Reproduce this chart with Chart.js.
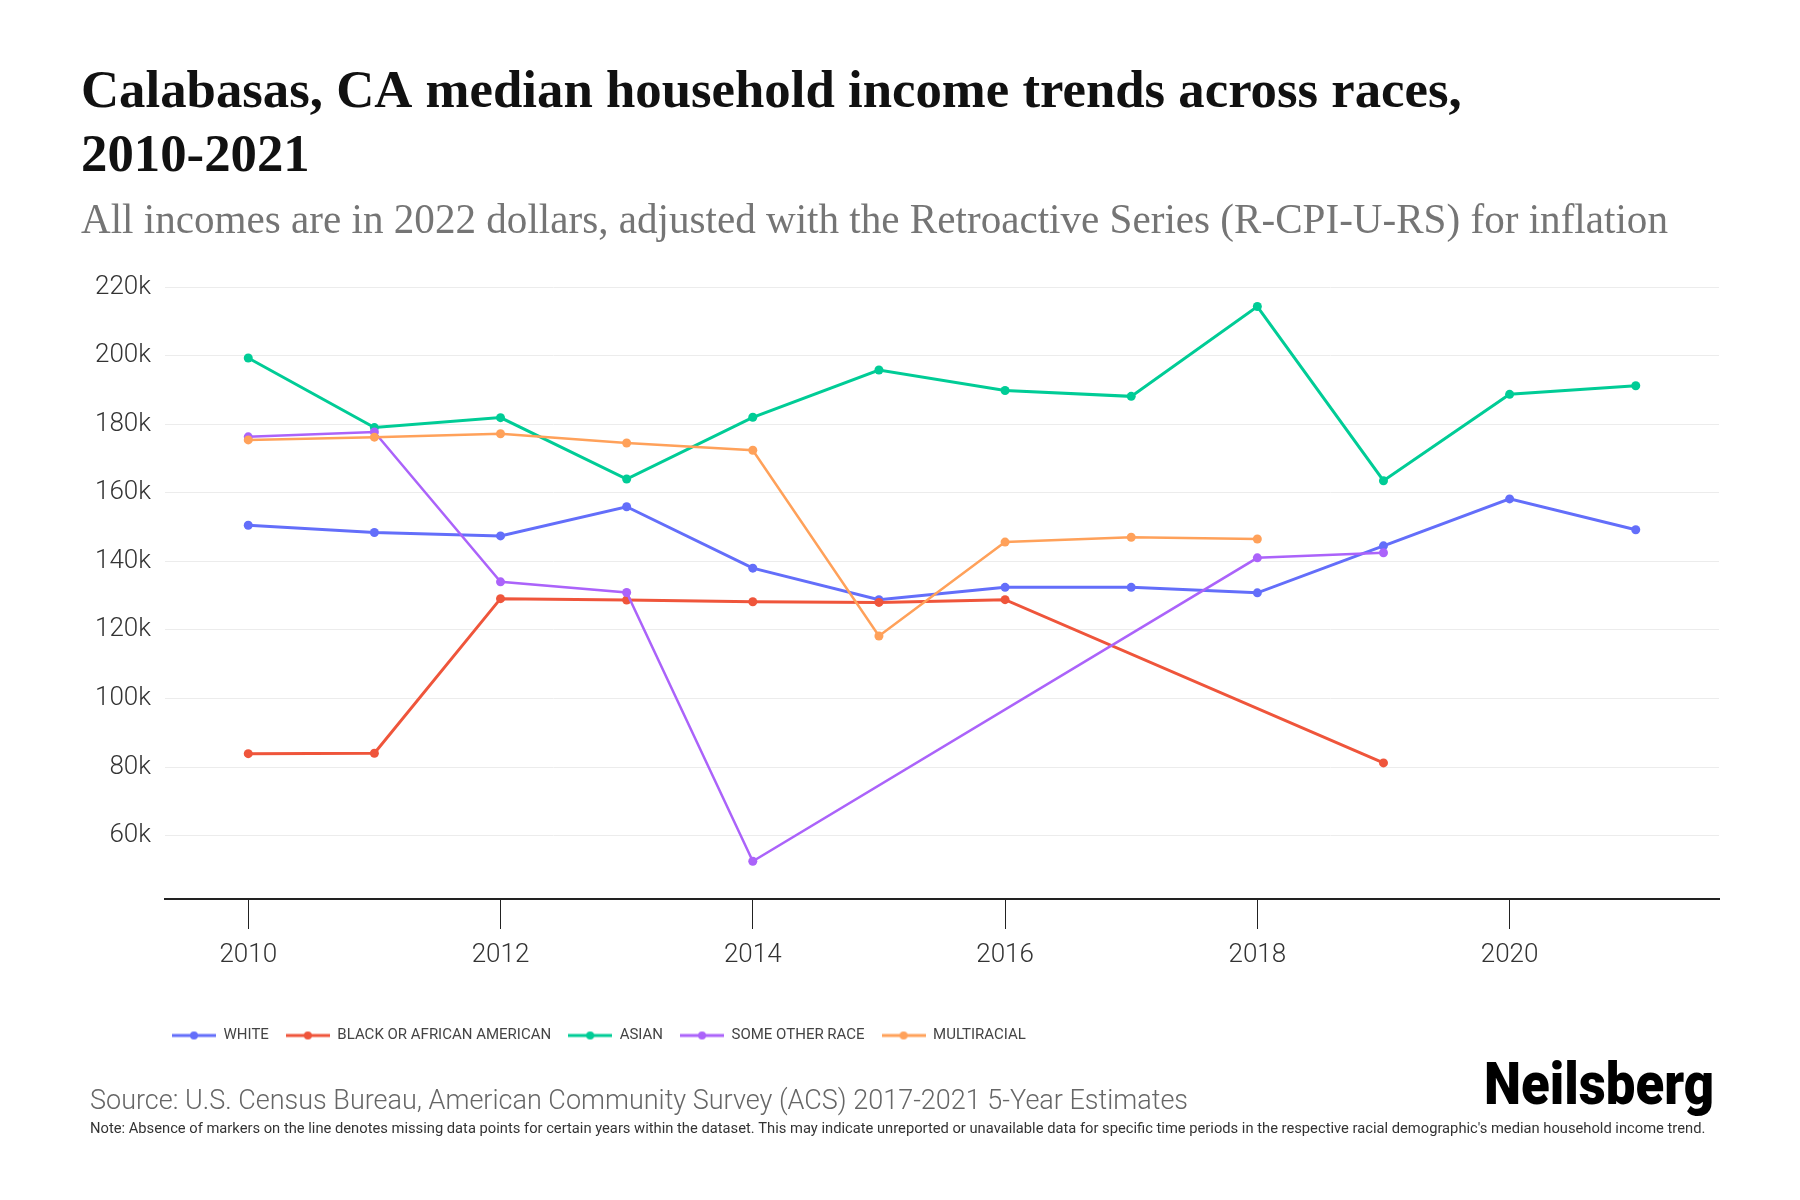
<!DOCTYPE html>
<html lang="en">
<head>
<meta charset="UTF-8">
<title>Calabasas, CA median household income trends across races</title>
<script src="https://cdn.jsdelivr.net/npm/chart.js@4.4.1/dist/chart.umd.min.js"></script>
<style>
  body { margin: 0; background: #fff; }
  #chart { display: block; }
</style>
</head>
<body>
<canvas id="chart" width="1800" height="1200"></canvas>

<script>
// values (2022 dollars), null = no data that year
const years = [2010, 2011, 2012, 2013, 2014, 2015, 2016, 2017, 2018, 2019, 2020, 2021];
const white = [150500, 148400, 147400, 155900, 138000, 128800, 132400, 132400, 130800, 144500, 158200, 149200];
const black = [83900, 84000, 129100, 128700, 128200, 128000, 128800, null, null, 81200, null, null];
const asian = [199300, 179000, 181900, 164000, 182000, 195800, 189800, 188100, 214300, 163500, 188700, 191200];
const otherRace = [176300, 177700, 134000, 130900, 52500, null, null, null, 141000, 142500, null, null];
const multiracial = [175400, 176200, 177200, 174500, 172400, 118200, 145600, 147000, 146500, null, null, null];

const seriesNames = ['WHITE', 'BLACK OR AFRICAN AMERICAN', 'ASIAN', 'SOME OTHER RACE', 'MULTIRACIAL'];
const seriesValues = [white, black, asian, otherRace, multiracial];
const palette = ['#636efa', '#ef553b', '#00cc96', '#ab63fa', '#ffa15a'];
const lineWidths = [3, 3, 3, 2.5, 2.5];

const yTickValues = [60000, 80000, 100000, 120000, 140000, 160000, 180000, 200000, 220000];
const xTickYears = [2010, 2012, 2014, 2016, 2018, 2020];

const titleLines = ['Calabasas, CA median household income trends across races,', '2010-2021'];
const subtitle = 'All incomes are in 2022 dollars, adjusted with the Retroactive Series (R-CPI-U-RS) for inflation';
const sourceText = 'Source: U.S. Census Bureau, American Community Survey (ACS) 2017-2021 5-Year Estimates';
const noteText = "Note: Absence of markers on the line denotes missing data points for certain years within the dataset. This may indicate unreported or unavailable data for specific time periods in the respective racial demographic's median household income trend.";

// little line-with-dot used as the legend symbol
function legendSwatch(color) {
  const c = document.createElement('canvas');
  c.width = 44; c.height = 10;
  const g = c.getContext('2d');
  g.strokeStyle = color; g.lineWidth = 3;
  g.beginPath(); g.moveTo(0, 5); g.lineTo(44, 5); g.stroke();
  g.fillStyle = color;
  g.beginPath(); g.arc(22, 5, 4, 0, Math.PI * 2); g.fill();
  return c;
}
const swatches = palette.map(legendSwatch);

// pick a font size so the text spans the given width
function fitFont(ctx, text, weight, family, target) {
  ctx.font = weight + ' 100px ' + family;
  const w = ctx.measureText(text).width;
  return weight + ' ' + (100 * target / w).toFixed(2) + 'px ' + family;
}

const pageText = {
  id: 'pageText',
  beforeDraw(chart) {
    // legend row starts a little left of the plot area
    chart.legend.left = chart.chartArea.left - 10;
  },
  afterDraw(chart) {
    const ctx = chart.ctx;
    ctx.save();
    ctx.textAlign = 'left';
    ctx.textBaseline = 'alphabetic';

    ctx.fillStyle = '#111';
    ctx.font = fitFont(ctx, titleLines[0], 'bold', '"Liberation Serif"', 1381);
    ctx.fillText(titleLines[0], 81, 107);
    ctx.fillText(titleLines[1], 81, 171);

    ctx.fillStyle = '#757575';
    ctx.font = fitFont(ctx, subtitle, 'normal', '"Liberation Serif"', 1587);
    ctx.fillText(subtitle, 81, 233);

    ctx.fillStyle = '#666';
    ctx.font = fitFont(ctx, sourceText, '300', 'Roboto', 1098);
    ctx.fillText(sourceText, 90, 1109);

    ctx.fillStyle = '#333';
    ctx.font = fitFont(ctx, noteText, 'normal', 'Roboto', 1616);
    ctx.fillText(noteText, 90, 1133);

    ctx.fillStyle = '#000';
    ctx.font = fitFont(ctx, 'Neilsberg', '900', 'Roboto', 230);
    ctx.translate(1484, 1104);
    ctx.scale(1, 1.12);
    ctx.fillText('Neilsberg', 0, 0);
    ctx.restore();
  }
};

const ctx = document.getElementById('chart');
const chart = new Chart(ctx, {
  type: 'line',
  data: {
    datasets: seriesNames.map((name, i) => ({
      label: name,
      data: years.map((yr, j) => ({ x: yr, y: seriesValues[i][j] })),
      borderColor: palette[i],
      backgroundColor: palette[i],
      borderWidth: lineWidths[i],
      pointRadius: 4.5,
      pointBorderWidth: 0,
      pointBackgroundColor: palette[i],
      spanGaps: true,
      tension: 0,
      order: seriesNames.length - i
    }))
  },
  options: {
    responsive: false,
    animation: false,
    layout: { padding: { left: 0, right: 81, top: 287, bottom: 147 } },
    plugins: {
      tooltip: { enabled: false },
      legend: {
        position: 'bottom',
        align: 'start',
        fullSize: false,
        labels: {
          usePointStyle: true,
          pointStyleWidth: 44,
          padding: 17,
          color: '#444',
          font: { family: 'Roboto', size: 15 },
          generateLabels(chart) {
            const items = Chart.defaults.plugins.legend.labels.generateLabels(chart);
            items.forEach(it => { it.pointStyle = swatches[it.datasetIndex]; });
            return items.sort((a, b) => a.datasetIndex - b.datasetIndex);
          }
        }
      }
    },
    scales: {
      x: {
        type: 'linear',
        min: 2009.34,
        max: 2021.66,
        afterBuildTicks: s => { s.ticks = xTickYears.map(v => ({ value: v })); },
        afterFit: s => { s.height = 112; },
        grid: { drawOnChartArea: false, drawTicks: true, tickLength: 30, tickColor: '#222', tickWidth: 1 },
        border: { color: '#222', width: 2 },
        ticks: {
          padding: 11,
          color: '#333',
          autoSkip: false,
          maxRotation: 0,
          font: { family: 'Roboto', size: 26, weight: 300 },
          callback: v => String(v)
        }
      },
      y: {
        min: 41500,
        max: 220000,
        afterBuildTicks: s => { s.ticks = yTickValues.map(v => ({ value: v })); },
        afterFit: s => { s.width = 165; },
        grid: { color: '#ececec', lineWidth: 1, drawTicks: false },
        border: { display: false },
        ticks: {
          padding: 14,
          color: '#333',
          font: { family: 'Roboto', size: 26, weight: 300 },
          callback: v => (v / 1000) + 'k'
        }
      }
    }
  },
  plugins: [pageText]
});
</script>
</body>
</html>
